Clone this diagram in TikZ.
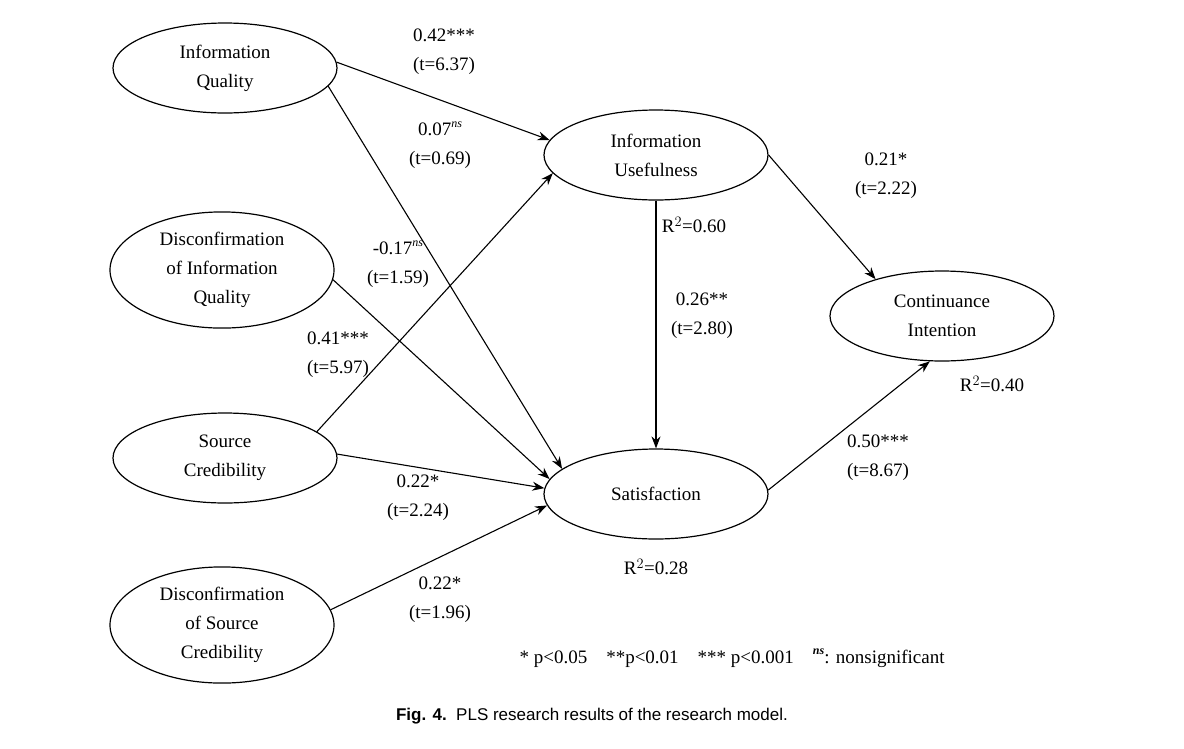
\documentclass[tikz,border=0pt]{standalone}
\usepackage{fontspec}
\setmainfont{Liberation Serif}
\newfontfamily\capfont{Liberation Sans}
\usetikzlibrary{shapes.geometric,arrows.meta}
\newcommand{\nsx}{\raisebox{0.45em}{\fontsize{12}{12}\selectfont\textit{ns}}}
\begin{document}
\begin{tikzpicture}[x=1pt,y=-1pt,
  lv/.style={draw,ellipse,line width=1.2pt,minimum width=224pt,minimum height=90pt,align=center,font=\fontsize{19}{29}\selectfont},
  lab/.style={align=center,font=\fontsize{19}{29}\selectfont},
  arr/.style={-{Stealth[length=12pt,width=9pt]},line width=1.1pt}]
\useasboundingbox (0,0) rectangle (1184,748);
\node[lv] (iq) at (225,68) {Information\\Quality};
\node[lv] (diq) at (222,270) {Disconfirmation\\of Information\\Quality};
\node[lv] (sc) at (225,458) {Source\\Credibility};
\node[lv] (dsc) at (222,625) {Disconfirmation\\of Source\\Credibility};
\node[lv] (iu) at (656,155) {Information\\Usefulness};
\node[lv] (sat) at (656,494) {Satisfaction};
\node[lv] (ci) at (942,316) {Continuance\\Intention};
\draw[arr] (iq.3) -- (iu.172);
\draw[arr] (iq.-10) -- (sat.165);
\draw[arr] (diq.-5) -- (sat.172);
\draw[arr] (sc.16) -- (iu.190);
\draw[arr] (sc.2) -- (sat.177);
\draw[arr] (dsc.8) -- (sat.186);
\draw[arr] (iu.south) -- (sat.north);
\draw[arr] (iu.0) -- (ci.151);
\draw[arr] (sat.2) -- (ci.255);
\node[lab] (l1) at (444,52) {0.42***\\(t=6.37)};
\node[lab] (l2) at (440,145) {0.07\nsx\\(t=0.69)};
\node[lab] (l3) at (398,264) {-0.17\nsx\\(t=1.59)};
\node[lab] (l4) at (338,355) {0.41***\\(t=5.97)};
\node[lab] (l5) at (418,498) {0.22*\\(t=2.24)};
\node[lab] (l6) at (440,600) {0.22*\\(t=1.96)};
\node[lab] (l7) at (694,225) {R$^2$=0.60};
\node[lab] (l8) at (702,316) {0.26**\\(t=2.80)};
\node[lab] (l9) at (886,176) {0.21*\\(t=2.22)};
\node[lab] (l10) at (992,384) {R$^2$=0.40};
\node[lab] (l11) at (878,458) {0.50***\\(t=8.67)};
\node[lab] (l12) at (656,567) {R$^2$=0.28};
\node[lab,anchor=west] (leg) at (516,658) {* p<0.05\quad **p<0.01\quad *** p<0.001\quad \textbf{\nsx}: nonsignificant};
\node[font=\capfont\fontsize{17}{20}\selectfont] (cap) at (592,716) {\textbf{Fig. 4.}\ \ PLS research results of the research model.};
\end{tikzpicture}
\end{document}
